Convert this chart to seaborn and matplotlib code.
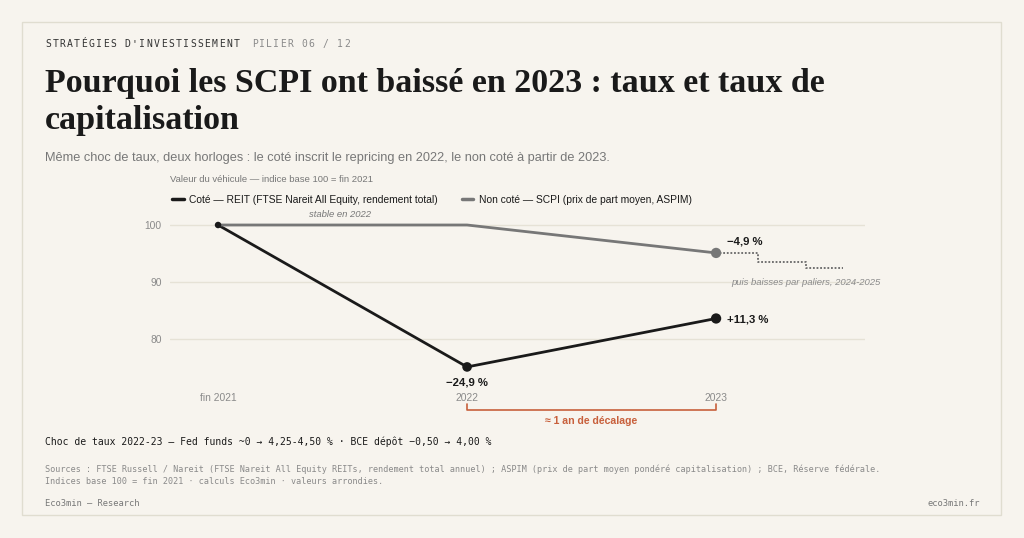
import numpy as np
import matplotlib
matplotlib.use("Agg")
import matplotlib.pyplot as plt
import pandas as pd
import seaborn as sns
from matplotlib.patches import Rectangle
from matplotlib.lines import Line2D

# donnees (indice base 100 = fin 2021)
periodes = ["fin 2021", "2022", "2023"]
reit = [100.0, 75.1, 83.6]
scpi = [100.0, 100.0, 95.1]
reit_labels = ["", "\u221224,9 %", "+11,3 %"]
scpi_label = "\u22124,9 %"
# paliers 2024-2025 (pointilles)
paliers_x = [2.0, 2.17, 2.36, 2.51]
paliers_y = [95.1, 93.5, 92.4, 92.4]

BG = "#f7f4ee"
INK = "#1a1a1a"
GREY = "#777777"
LIGHT = "#8a8a8a"
ACCENT = "#c8603c"
SERIF = ["Liberation Serif", "DejaVu Serif"]
SANS = ["Liberation Sans", "DejaVu Sans"]
MONO = ["DejaVu Sans Mono"]

sns.set_theme(style="white")
plt.rcParams["font.family"] = SANS

W, H = 1024, 538
fig = plt.figure(figsize=(W / 100, H / 100), dpi=100)
fig.patch.set_facecolor(BG)

def fx(px):
    return px / W

def fy(py):
    return 1 - py / H

# cadre
fig.add_artist(Rectangle((fx(22), fy(515)), fx(1001) - fx(22), fy(22) - fy(515),
                         transform=fig.transFigure, fill=False, ec="#e0ddd0", lw=1))

# en-tete espace
def spaced(x0, y, txt, color, adv=7.25):
    for i, ch in enumerate(txt):
        fig.text(fx(x0 + i * adv), fy(y), ch, family=MONO, size=7, color=color,
                 va="center", ha="left")

spaced(45, 44, "STRAT\u00c9GIES D'INVESTISSEMENT", "#333333")
spaced(252, 44, "PILIER 06 / 12", "#8a8a8a", adv=7.1)

fig.text(fx(45), fy(92), "Pourquoi les SCPI ont baiss\u00e9 en 2023 : taux et taux de",
         family=SERIF, weight="bold", size=24.5, color=INK, va="baseline")
fig.text(fx(45), fy(129), "capitalisation", family=SERIF, weight="bold", size=24.5,
         color=INK, va="baseline")
fig.text(fx(45), fy(158), "M\u00eame choc de taux, deux horloges : le cot\u00e9 inscrit le repricing en 2022, "
         "le non cot\u00e9 \u00e0 partir de 2023.", size=9.15, color=GREY, va="center")
fig.text(fx(170), fy(180), "Valeur du v\u00e9hicule \u2014 indice base 100 = fin 2021",
         size=6.8, color=GREY, va="center")

# axes
ymin, ymax = 72, 103
px_per = 5.7
top = 225 - (ymax - 100) * px_per
bot = 225 + (100 - ymin) * px_per
ax = fig.add_axes([fx(170), fy(bot), fx(865) - fx(170), fy(top) - fy(bot)])
ax.set_facecolor(BG)
ax.set_xlim(-0.193, 2.598)
ax.set_ylim(ymin, ymax)

df = pd.DataFrame({"x": [0, 1, 2] * 2, "v": reit + scpi,
                   "serie": ["reit"] * 3 + ["scpi"] * 3})

for y in [80, 90, 100]:
    ax.axhline(y, color="#e6e2d6", lw=1, zorder=0)

ax.plot(paliers_x, paliers_y, drawstyle="steps-post", color="#666666", lw=1.3,
        ls=(0, (1, 1)), zorder=2)
sns.lineplot(data=df, x="x", y="v", hue="serie", palette={"reit": INK, "scpi": GREY},
             linewidth=2.0, legend=False, ax=ax, zorder=3)
sns.scatterplot(x=[0, 1, 2], y=reit, color=INK, s=[22, 48, 55], edgecolor="none",
                legend=False, ax=ax, zorder=4)
sns.scatterplot(x=[2], y=[scpi[2]], color=GREY, s=55, edgecolor="none",
                legend=False, ax=ax, zorder=4)

ax.set_xticks([0, 1, 2])
ax.set_xticklabels(periodes)
ax.set_yticks([80, 90, 100])
ax.set_yticklabels(["80", "90", "100"])
ax.tick_params(axis="both", length=0, labelsize=7.4, labelcolor=LIGHT)
ax.tick_params(axis="x", pad=6)
ax.tick_params(axis="y", pad=6)
ax.set_xlabel("")
ax.set_ylabel("")
sns.despine(ax=ax, left=True, bottom=True)

# etiquettes
ax.annotate(reit_labels[1], (1, reit[1]), xytext=(0, -11), textcoords="offset points",
            ha="center", va="center", size=8.2, weight="bold", color=INK)
ax.annotate(reit_labels[2], (2, reit[2]), xytext=(8, -0.5), textcoords="offset points",
            ha="left", va="center", size=8.2, weight="bold", color=INK)
ax.annotate(scpi_label, (2, scpi[2]), xytext=(8, 8), textcoords="offset points",
            ha="left", va="center", size=8.2, weight="bold", color=INK)
ax.annotate("stable en 2022", (0.49, 100), xytext=(0, 7.5), textcoords="offset points",
            ha="center", va="center", size=6.8, style="italic", color=GREY)
ax.annotate("puis baisses par paliers, 2024-2025", (2, 90), xytext=(11, -0.5),
            textcoords="offset points", ha="left", va="center", size=6.8,
            style="italic", color=LIGHT, annotation_clip=False)

# decalage
yb = 100 - (410 - 225) / px_per
yt = 100 - (404 - 225) / px_per
ax.plot([1, 1, 2, 2], [yt, yb, yb, yt], color=ACCENT, lw=1.2, clip_on=False)
ax.text(1.5, 100 - (421 - 225) / px_per, "\u2248 1 an de d\u00e9calage", ha="center",
        va="center", size=7.6, weight="bold", color=ACCENT, clip_on=False)

# legende
handles = [Line2D([], [], color=INK, lw=2.5),
           Line2D([], [], color=GREY, lw=2.5)]
fig.legend(handles, ["Cot\u00e9 \u2014 REIT (FTSE Nareit All Equity, rendement total)",
                     "Non cot\u00e9 \u2014 SCPI (prix de part moyen, ASPIM)"],
           loc="center left", bbox_to_anchor=(fx(163), fy(200)), ncol=2, frameon=False,
           handlelength=1.1, handletextpad=0.55, columnspacing=2.3,
           prop={"family": SANS, "size": 7.4}, labelcolor=INK)

# bas de page
fig.text(fx(45), fy(442), "Choc de taux 2022-23 \u2014 Fed funds ~0 \u2192 4,25-4,50 % \u00b7 "
         "BCE d\u00e9p\u00f4t \u22120,50 \u2192 4,00 %", family=MONO, size=7.05, color=INK, va="center")
fig.text(fx(45), fy(469), "Sources : FTSE Russell / Nareit (FTSE Nareit All Equity REITs, rendement "
         "total annuel) ; ASPIM (prix de part moyen pond\u00e9r\u00e9 capitalisation) ; BCE, "
         "R\u00e9serve f\u00e9d\u00e9rale.", family=MONO, size=6.1, color=LIGHT, va="center")
fig.text(fx(45), fy(481), "Indices base 100 = fin 2021 \u00b7 calculs Eco3min \u00b7 valeurs arrondies.",
         family=MONO, size=6.1, color=LIGHT, va="center")
fig.text(fx(45), fy(503), "Eco3min \u2014 Research", family=MONO, size=6.3, color=GREY, va="center")
fig.text(fx(980), fy(503), "eco3min.fr", family=MONO, size=6.3, color=GREY, va="center", ha="right")

fig.savefig("out.png", dpi=100, facecolor=BG)
